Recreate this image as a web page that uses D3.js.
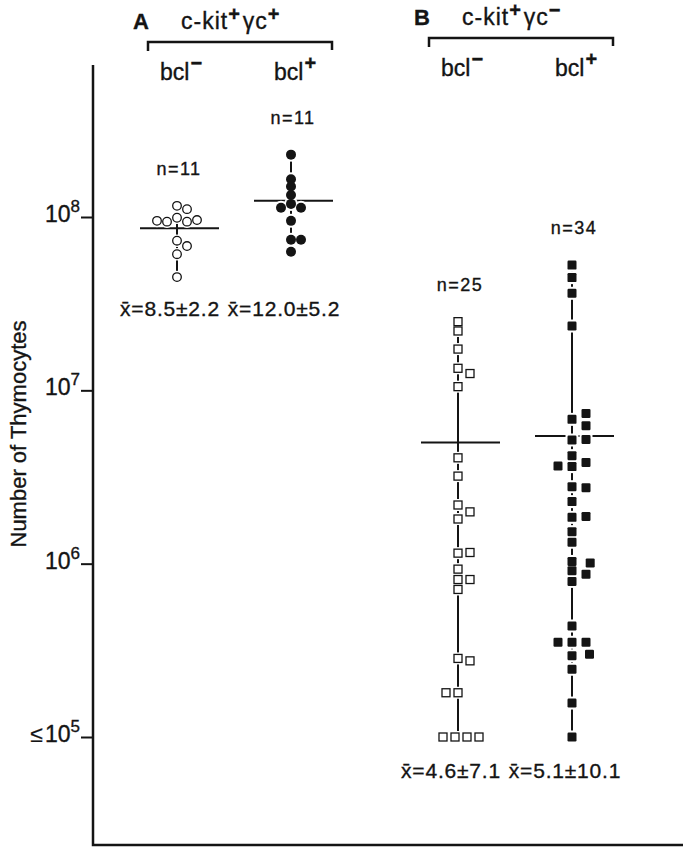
<!DOCTYPE html>
<html>
<head>
<meta charset="utf-8">
<script src="https://cdn.jsdelivr.net/npm/d3@7/dist/d3.min.js"></script>
<style>
  body { margin: 0; background: #fff; }
  text { font-family: "Liberation Sans", Arial, Helvetica, sans-serif; fill: #141414; stroke: #141414; stroke-width: 0.35px; }
</style>
</head>
<body>
<div id="chart"></div>
<script>
/***Data***/
var panels = ["A", "B"];
var panelSigns = [["+", "+"], ["+", "\u2212"]];   // c-kit, gamma-c
var subSigns = ["\u2212", "+"];                    // bcl-, bcl+

var aNegValues = [1.16e8, 1.11e8, 9.9e7, 9.5e7, 9.4e7, 9.4e7, 9.6e7, 7.3e7, 6.8e7, 6.1e7, 4.5e7];
var aNegLanes  = [0, 1, 0, -2, -1, 1, 2, 0, 1, 0, 0];

var aPosValues = [2.29e8, 1.65e8, 1.50e8, 1.34e8, 1.19e8, 1.13e8, 1.13e8, 9.5e7, 7.4e7, 7.4e7, 6.3e7];
var aPosLanes  = [0, 0, 0, 0, 0, -1, 1, 0, 0, 1, 0];

var bNegValues = [2.49e7, 2.20e7, 1.73e7, 1.34e7, 1.25e7, 1.05e7, 4.08e6, 3.20e6, 2.18e6, 1.99e6,
                  1.81e6, 1.15e6, 1.16e6, 9.3e5, 8.1e5, 8.1e5, 7.1e5, 2.84e5, 2.75e5, 1.80e5,
                  1.80e5, 1e5, 1e5, 1e5, 1e5];
var bNegLanes  = [0, 0, 0, 0, 1, 0, 0, 0, 0, 1,
                  0, 0, 1, 0, 0, 1, 0, 0, 1, -1,
                  0, -1.25, -0.25, 0.75, 1.75];

var bPosValues = [5.28e7, 4.47e7, 3.63e7, 2.35e7, 7.36e6, 6.80e6, 6.25e6, 5.17e6, 5.21e6, 4.20e6,
                  3.84e6, 3.66e6, 3.63e6, 2.78e6, 2.74e6, 2.28e6, 1.87e6, 1.85e6, 1.53e6, 1.33e6,
                  1.03e6, 1.01e6, 9.1e5, 8.7e5, 7.9e5, 4.37e5, 3.52e5, 3.52e5, 3.52e5, 3.00e5,
                  2.94e5, 2.46e5, 1.57e5, 1.0e5];
var bPosLanes  = [0, 0, 0, 0, 1, 0, 1, 0, 1, 0,
                  1, -1, 0, 0, 1, 0, 1, 0, 0, 0,
                  0, 1.3, 0, 1, 0, 0, -1, 0, 1, 1.25,
                  0, 0, 0, 0];

var meanLineValues = [8.6e7, 1.24e8, 5.0e6, 5.45e6];
var meanLabels = ["8.5\u00b12.2", "12.0\u00b15.2", "4.6\u00b17.1", "5.1\u00b110.1"];

var tickValues = [1e5, 1e6, 1e7, 1e8];
var tickExps = ["5", "6", "7", "8"];

/***Layout***/
var W = 688, H = 853;
var frame = {top: 65, right: 683, bottom: 845, left: 93};
var headerShift = {A: 0, B: -4};     // the scanned page is slightly tilted
var meanLabelY = {A: 316, B: 778};

var groups = [
  {panel: "A", sub: 0, values: aNegValues, lanes: aNegLanes, mean: meanLineValues[0], label: meanLabels[0], shape: "circle", filled: false, step: 10},
  {panel: "A", sub: 1, values: aPosValues, lanes: aPosLanes, mean: meanLineValues[1], label: meanLabels[1], shape: "circle", filled: true,  step: 10},
  {panel: "B", sub: 0, values: bNegValues, lanes: bNegLanes, mean: meanLineValues[2], label: meanLabels[2], shape: "square", filled: false, step: 12},
  {panel: "B", sub: 1, values: bPosValues, lanes: bPosLanes, mean: meanLineValues[3], label: meanLabels[3], shape: "square", filled: true,  step: 14}
];

/***Scales***/
var yScale = d3.scaleLog().domain([1e5, 1e8]).range([737, 217]);
var panelScale = d3.scalePoint().domain(panels).range([240, 521]);
var subScale = d3.scalePoint().domain([0, 1]).range([-63, 51]);

function colX(g) { return panelScale(g.panel) + subScale(g.sub); }

var svg = d3.select("#chart")
            .append("svg")
            .attr("width", W)
            .attr("height", H);

/***Frame***/
svg.append("path")
   .attr("d", "M" + frame.left + "," + frame.top + "V" + frame.bottom + "H" + frame.right)
   .attr("fill", "none")
   .attr("stroke", "#141414")
   .attr("stroke-width", 2.5);

/***Axis***/
var yAxis = d3.axisLeft(yScale)
              .tickValues(tickValues)
              .tickSize(12)
              .tickFormat("");

var axisG = svg.append("g")
               .attr("transform", "translate(" + frame.left + ",0)")
               .call(yAxis);
axisG.select(".domain").remove();
axisG.selectAll(".tick line").attr("stroke", "#141414").attr("stroke-width", 2);

var tickLabels = svg.selectAll(".tickLabel")
                    .data(tickValues)
                    .enter()
                    .append("text")
                    .attr("class", "tickLabel")
                    .attr("x", frame.left - 13)
                    .attr("y", function(d) { return yScale(d) + 5; })
                    .attr("text-anchor", "end")
                    .style("font-size", "23px");
tickLabels.each(function(d, i) {
  var t = d3.select(this);
  if (i === 0) t.append("tspan").style("font-size", "23px").style("stroke-width", "0.2px").text("\u2264");
  t.append("tspan").attr("dx", i === 0 ? 2 : 0).text("10");
  t.append("tspan").attr("dy", -10).style("font-size", "17px").text(tickExps[i]);
});

svg.append("text")
   .attr("transform", "translate(26,434) rotate(-90)")
   .attr("text-anchor", "middle")
   .style("font-size", "22px")
   .text("Number of Thymocytes");

/***Panel headers and brackets***/
panels.forEach(function(p, i) {
  var cx = panelScale(p), dy = headerShift[p];
  svg.append("text")
     .attr("x", cx - 99).attr("y", 29 + dy)
     .attr("text-anchor", "middle")
     .style("font-size", "22px").style("font-weight", "bold")
     .text(p);
  var title = svg.append("text")
                 .attr("x", cx - 59).attr("y", 29 + dy)
                 .style("font-size", "23px")
                 .style("letter-spacing", "1px");
  title.append("tspan").text("c-kit");
  title.append("tspan").attr("dy", -8).style("font-size", "20px").style("font-weight", "bold").text(panelSigns[i][0]);
  title.append("tspan").attr("dy", 8).attr("dx", 2).text("\u03b3c");
  title.append("tspan").attr("dy", -8).style("font-size", "20px").style("font-weight", "bold").text(panelSigns[i][1]);

  svg.append("path")
     .attr("d", "M" + (cx - 92) + "," + (51 + dy) + "V" + (42 + dy) + "H" + (cx + 92) + "V" + (50 + dy))
     .attr("fill", "none")
     .attr("stroke", "#141414")
     .attr("stroke-width", 2.5);
});

/***Subgroup labels***/
groups.forEach(function(g) {
  var t = svg.append("text")
             .attr("x", colX(g) - 17)
             .attr("y", 80 + headerShift[g.panel])
             .style("font-size", "23px");
  t.append("tspan").text("bcl");
  t.append("tspan").attr("dy", -10).attr("dx", 1).style("font-size", "20px").style("font-weight", "bold").text(subSigns[g.sub]);
});

/***Vertical range lines***/
svg.selectAll(".rangeLine")
   .data(groups)
   .enter()
   .append("line")
   .attr("class", "rangeLine")
   .attr("x1", colX).attr("x2", colX)
   .attr("y1", function(g) { return yScale(d3.max(g.values)); })
   .attr("y2", function(g) { return yScale(d3.min(g.values)); })
   .attr("stroke", "#141414")
   .attr("stroke-width", 2);

/***Mean lines***/
svg.selectAll(".meanLine")
   .data(groups)
   .enter()
   .append("line")
   .attr("class", "meanLine")
   .attr("x1", function(g) { return colX(g) - 37; })
   .attr("x2", function(g) { return colX(g) + 42; })
   .attr("y1", function(g) { return yScale(g.mean); })
   .attr("y2", function(g) { return yScale(g.mean); })
   .attr("stroke", "#141414")
   .attr("stroke-width", 2);

/***Points***/
var points = [];
groups.forEach(function(g) {
  g.values.forEach(function(v, i) {
    points.push({g: g, value: v, x: colX(g) + g.lanes[i] * g.step, y: yScale(v)});
  });
});

function size(p) {
  if (p.g.shape === "circle") return p.g.filled ? 5 : 4.3;
  return p.g.filled ? 9 : 8;
}

function drawMarks(sel, pad, isHalo) {
  sel.each(function(p) {
    var node = d3.select(this), s = size(p), m;
    if (p.g.shape === "circle") {
      m = node.append("circle")
              .attr("cx", p.x).attr("cy", p.y)
              .attr("r", s + pad);
    } else {
      m = node.append("rect")
              .attr("x", p.x - s / 2 - pad).attr("y", p.y - s / 2 - pad)
              .attr("width", s + 2 * pad).attr("height", s + 2 * pad);
    }
    if (isHalo) {
      m.attr("fill", "#fff");
    } else if (p.g.filled) {
      m.attr("fill", "#141414");
      if (p.g.shape === "square") m.attr("rx", 1.2);
    } else {
      m.attr("fill", "#fff").attr("stroke", "#141414").attr("stroke-width", 1.3);
    }
  });
}

drawMarks(svg.append("g").selectAll("g").data(points).enter().append("g"), 2, true);
drawMarks(svg.append("g").selectAll("g").data(points).enter().append("g"), 0, false);

/***n labels***/
svg.selectAll(".nLabel")
   .data(groups)
   .enter()
   .append("text")
   .attr("class", "nLabel")
   .attr("x", function(g) { return colX(g) + 2; })
   .attr("y", function(g) { return yScale(d3.max(g.values)) - 31; })
   .attr("text-anchor", "middle")
   .style("font-size", "18px")
   .style("letter-spacing", "1.5px")
   .text(function(g) { return "n=" + g.values.length; });

/***Mean labels***/
svg.selectAll(".meanLabel")
   .data(groups)
   .enter()
   .append("text")
   .attr("class", "meanLabel")
   .attr("x", function(g) { return colX(g) - 7; })
   .attr("y", function(g) { return meanLabelY[g.panel]; })
   .attr("text-anchor", "middle")
   .style("font-size", "21px")
   .style("letter-spacing", "0.8px")
   .text(function(g) { return "x\u0304=" + g.label; });
</script>
</body>
</html>
